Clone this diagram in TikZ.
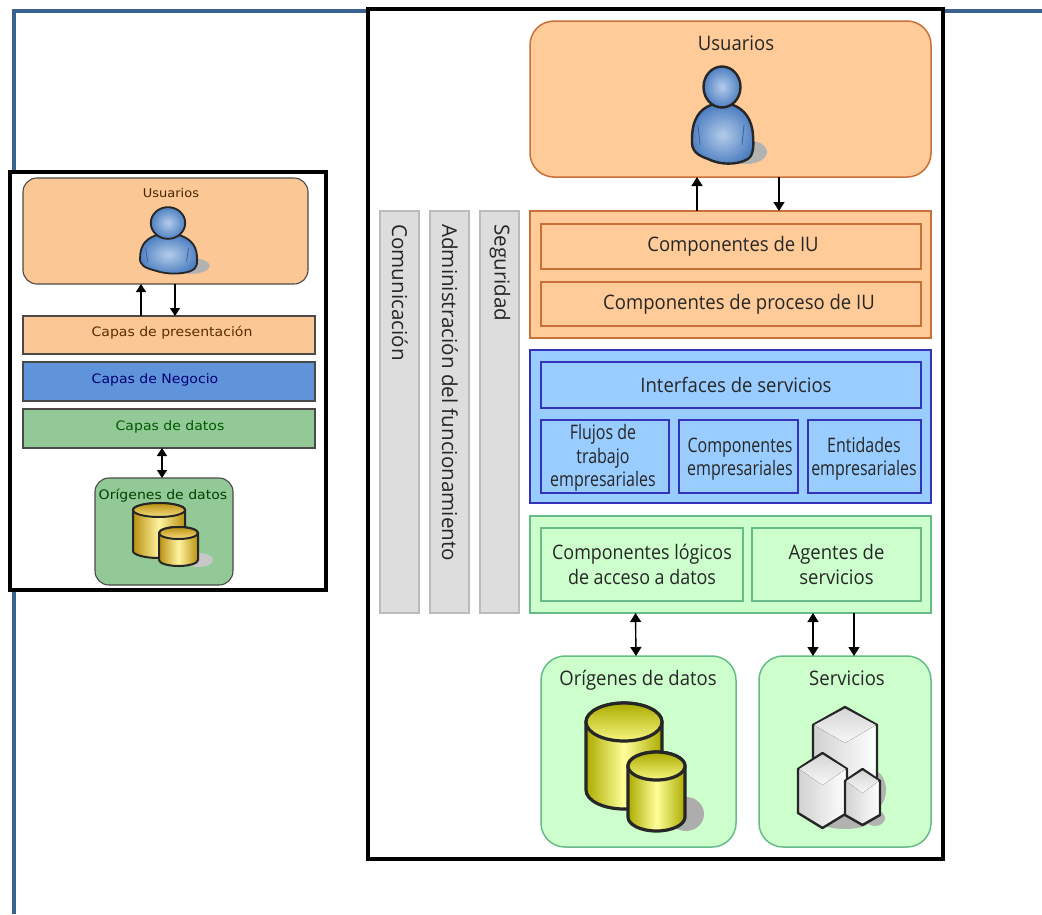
\documentclass[tikz,border=0pt]{standalone}
\usepackage{fontspec}
\setmainfont{Open Sans}
\newfontfamily\narrowfont[FakeStretch=0.925]{Open Sans}
\newfontfamily\midfont[FakeStretch=0.895]{Open Sans}
\newfontfamily\tightfont[FakeStretch=0.8]{Open Sans}
\newfontfamily\leftfont[FakeStretch=1.08]{DejaVu Sans}
\usetikzlibrary{arrows.meta}
\definecolor{lineblue}{HTML}{3B6191}
\definecolor{rorange}{HTML}{FFCC99}
\definecolor{rorangeb}{HTML}{C87038}
\definecolor{rblue}{HTML}{99CCFF}
\definecolor{rblueb}{HTML}{3333BB}
\definecolor{rgreen}{HTML}{CCFFCC}
\definecolor{rgreenb}{HTML}{66BB88}
\definecolor{rgray}{HTML}{DDDDDD}
\definecolor{rgrayb}{HTML}{BBBBBB}
\definecolor{lorange}{HTML}{FBC795}
\definecolor{lblue}{HTML}{5F93DA}
\definecolor{lgreen}{HTML}{93C996}
\definecolor{ldark}{HTML}{4A4A48}
\definecolor{plight}{HTML}{B4CCEA}
\definecolor{pdark}{HTML}{4F80C2}
\definecolor{cyldark}{HTML}{ABAB00}
\definecolor{cylmid}{HTML}{FFFF9A}
\definecolor{cyltop}{HTML}{F6F680}
\tikzset{
  x=1pt,y=-1pt,
  frame/.style={draw=black,line width=4pt,fill=white},
  rbox/.style={draw=#1,line width=1.5pt,outer sep=0pt,inner sep=0pt,align=center},
  ubox/.style={rbox=#1,rounded corners=24pt},
  lbox/.style={draw=ldark,line width=1.4pt,outer sep=0pt,inner sep=0pt},
  lrnd/.style={draw=ldark,line width=1.1pt,outer sep=0pt,inner sep=0pt,rounded corners=14pt},
  rtext/.style={font=\narrowfont\fontsize{20}{24.5}\selectfont,text=black!85,align=center,inner sep=0pt},
  mtext/.style={font=\midfont\fontsize{20}{25.5}\selectfont,text=black!85,align=center,inner sep=0pt},
  stext/.style={font=\tightfont\fontsize{20}{23.5}\selectfont,text=black!85,align=center,inner sep=0pt},
  vtext/.style={font=\fontsize{20.6}{25}\selectfont,text=black!85,rotate=-90,anchor=west,inner sep=0pt},
  ltext/.style={font=\leftfont\fontsize{13}{15}\selectfont,inner sep=0pt},
  tip/.style={-{Triangle[length=9pt,width=11pt]},line width=1.4pt,black},
  biti/.style={{Triangle[length=9pt,width=11pt]}-{Triangle[length=9pt,width=11pt]},line width=1.4pt,black},
  ltip/.style={-{Triangle[length=8pt,width=10pt]},line width=1.3pt,black},
  lbiti/.style={{Triangle[length=8pt,width=10pt]}-{Triangle[length=8pt,width=10pt]},line width=1.3pt,black},
  icon/.style={draw=black!85},
}
% name x1 y1 x2 y2 style text
\newcommand{\bx}[7]{\node[#6,minimum width={(#4-#2)*1pt},minimum height={(#5-#3)*1pt}] (#1) at ({(#2+#4)/2},{(#3+#5)/2}) {#7};}
% person: x y xscale yscale head-ry(local)
\newcommand{\personicon}[5]{%
\begin{scope}[shift={(#1,#2)},xscale=#3,yscale=#4]
  \fill[black!30] (24,65) ellipse [x radius=21,y radius=12];
  \draw[icon,inner color=plight,outer color=pdark]
    (-11,18) .. controls (-22,22) and (-30,32) .. (-30,52)
    .. controls (-31,64) and (-25,68) .. (-14,72)
    .. controls (-2,78) and (14,78) .. (24,73)
    .. controls (31,70) and (32,62) .. (31,48)
    .. controls (30,32) and (22,22) .. (11,18) -- cycle;
  \draw[pdark!75!black,line width=.8pt] (-24,38) -- (-22,58) (22,38) -- (20,58);
  \draw[icon,inner color=plight,outer color=pdark] (0,0) ellipse [x radius=18.5,y radius=#5];
\end{scope}}
% cylinder: x1 x2 top bottom ry
\newcommand{\cyl}[5]{%
  \draw[icon,left color=cyldark,right color=cyldark,middle color=cylmid]
    (#1,#3) -- (#1,#4-#5) arc[start angle=180,end angle=360,x radius={(#2-#1)/2},y radius=-#5]
    -- (#2,#3) arc[start angle=0,end angle=180,x radius={(#2-#1)/2},y radius=-#5] -- cycle;
  \draw[icon,top color=cyldark,bottom color=cyltop]
    ({(#1+#2)/2},#3) ellipse [x radius={(#2-#1)/2},y radius=#5];
}
% hex prism: x1 x2 top shoulder lowshoulder bottom
\newcommand{\hex}[6]{%
  \draw[icon,line join=round,left color=black!18,right color=white]
    ({(#1+#2)/2},#3) -- (#2,#4) -- (#2,#5) -- ({(#1+#2)/2},#6) -- (#1,#5) -- (#1,#4) -- cycle;
  \fill[top color=black!16,bottom color=black!3]
    ({(#1+#2)/2},#3+1.5) -- (#2-1.2,#4) -- ({(#1+#2)/2},{#4+(#4-#3)}) -- (#1+1.2,#4) -- cycle;
}
\begin{document}
\begin{tikzpicture}
\useasboundingbox (0,0) rectangle (1042,914);
% blue page lines
\draw[lineblue,line width=4pt,line cap=butt] (1042,11) -- (14,11) -- (14,914);

%%% Left panel
\bx{lframe}{9.5}{171.5}{326}{589.5}{frame}{}
\bx{lusr}{23}{178}{308}{284}{lrnd,fill=lorange}{}
\bx{lpres}{23}{316}{315}{354}{lbox,fill=lorange}{}
\bx{lneg}{23}{362}{315}{401}{lbox,fill=lblue}{}
\bx{ldat}{23}{409}{315}{448}{lbox,fill=lgreen}{}
\bx{lori}{95}{478}{233}{585}{lrnd,fill=lgreen}{}
\node[ltext,text=black!60!orange!70!black,font=\leftfont\fontsize{12}{14}\selectfont] (tlusr) at (171,193) {Usuarios};
\node[ltext,text=black!65!orange] (tlpres) at (172,333) {Capas de presentación};
\node[ltext,text=blue!45!black] (tlneg) at (155,380) {Capas de Negocio};
\node[ltext,text=green!35!black] (tldat) at (170,427) {Capas de datos};
\node[ltext,text=green!25!black] (tlori) at (163,496) {Orígenes de datos};
\begin{scope}[line width=1.8pt]
\personicon{168}{223}{0.93}{0.66}{24}
\end{scope}
\fill[black!22] (198,560) ellipse [x radius=15,y radius=7];
\definecolor{cyldark}{HTML}{B89010}
\definecolor{cylmid}{HTML}{FFF4A0}
\definecolor{cyltop}{HTML}{F8DE80}
\begin{scope}[line width=2pt]
\cyl{133}{185}{510}{558}{7}
\cyl{159}{198}{533}{566}{6}
\end{scope}
\definecolor{cyldark}{HTML}{ABAB00}
\definecolor{cylmid}{HTML}{FFFF9A}
\definecolor{cyltop}{HTML}{F6F680}
\draw[ltip] ([xshift=118pt]lpres.north west) -- ([xshift=118pt]lusr.south west);
\draw[ltip] ([xshift=152pt]lusr.south west) -- ([xshift=152pt]lpres.north west);
\draw[lbiti] ([xshift=139pt]ldat.south west) -- ([xshift=67pt]lori.north west);

%%% Right panel
\bx{rframe}{368}{9}{943}{859}{frame}{}
\bx{usr}{530}{21}{931}{177}{ubox=rorangeb,fill=rorange}{}
\node[rtext] (tusr) at (736,43) {Usuarios};
\begin{scope}[line width=2.4pt]
\personicon{722}{87}{1}{1}{20.5}
\end{scope}
\bx{com}{380}{211}{419}{613}{rbox=rgrayb,fill=rgray}{}
\bx{adm}{430}{211}{469}{613}{rbox=rgrayb,fill=rgray}{}
\bx{seg}{480}{211}{519}{613}{rbox=rgrayb,fill=rgray}{}
\node[vtext] (tcom) at (400,224) {Comunicación};
\node[vtext] (tadm) at (450,224) {Administración del funcionamiento};
\node[vtext] (tseg) at (500,224) {Seguridad};

\bx{pres}{530}{211}{931}{338}{rbox=rorangeb,fill=rorange}{}
\bx{ciu}{541}{224}{921}{269}{rbox=rorangeb,fill=rorange,rtext}{\hspace*{4pt}\raisebox{-2pt}{Componentes de IU}}
\bx{cpi}{541}{282}{921}{326}{rbox=rorangeb,fill=rorange,rtext}{\hspace*{16pt}\raisebox{-2pt}{Componentes de proceso de IU}}

\bx{bus}{530}{350}{931}{503}{rbox=rblueb,fill=rblue}{}
\bx{isv}{541}{362}{921}{408}{rbox=rblueb,fill=rblue,rtext}{\hspace*{10pt}Interfaces de servicios}
\bx{flu}{541}{420}{669}{493}{rbox=rblueb,fill=rblue}{}
\bx{cem}{679}{420}{798}{493}{rbox=rblueb,fill=rblue}{}
\bx{ent}{808}{420}{921}{493}{rbox=rblueb,fill=rblue}{}
\node[stext] (tflu) at (603,458) {Flujos de\\trabajo\\empresariales};
\node[stext] (tcem) at (740,459) {Componentes\\empresariales};
\node[stext] (tent) at (864,459) {Entidades\\empresariales};

\bx{dat}{530}{516}{931}{613}{rbox=rgreenb,fill=rgreen}{}
\bx{cld}{541}{528}{743}{601}{rbox=rgreenb,fill=rgreen,mtext}{Componentes lógicos\\de acceso a datos}
\bx{age}{752}{528}{921}{601}{rbox=rgreenb,fill=rgreen,rtext}{Agentes de\\servicios}

\bx{ori}{541}{656}{736}{847}{ubox=rgreenb,fill=rgreen}{}
\bx{srv}{759}{656}{931}{847}{ubox=rgreenb,fill=rgreen}{}
\node[rtext] (tori) at (638,680) {Orígenes de datos};
\node[rtext] (tsrv) at (847,678) {Servicios};

% database icon
\fill[black!32] (686,814) ellipse [x radius=18,y radius=17];
\begin{scope}[line width=3.2pt]
\cyl{586}{662}{722}{809}{19}
\cyl{628}{685}{766}{831}{14}
\end{scope}
% servers icon
\fill[black!30] (872,790) ellipse [x radius=14,y radius=20];
\fill[black!30] (845,822) ellipse [x radius=24,y radius=7];
\fill[black!30] (875,818) ellipse [x radius=10,y radius=8];
\begin{scope}[line width=2.4pt]
\hex{813}{877}{707}{725}{790}{808}
\hex{798}{847}{753}{769}{813}{828}
\hex{845}{880}{769}{781}{815}{825}
\end{scope}

% connectors
\draw[tip] ([xshift=-33.5pt]pres.north) -- ([xshift=-33.5pt]usr.south);
\draw[tip] ([xshift=48.5pt]usr.south) -- ([xshift=48.5pt]pres.north);
\draw[biti] ([xshift=105.5pt]dat.south west) -- ([xshift=-2.5pt]ori.north);
\draw[biti] ([xshift=283pt]dat.south west) -- ([xshift=-32pt]srv.north);
\draw[tip] ([xshift=324pt]dat.south west) -- ([xshift=9pt]srv.north);
\end{tikzpicture}
\end{document}
